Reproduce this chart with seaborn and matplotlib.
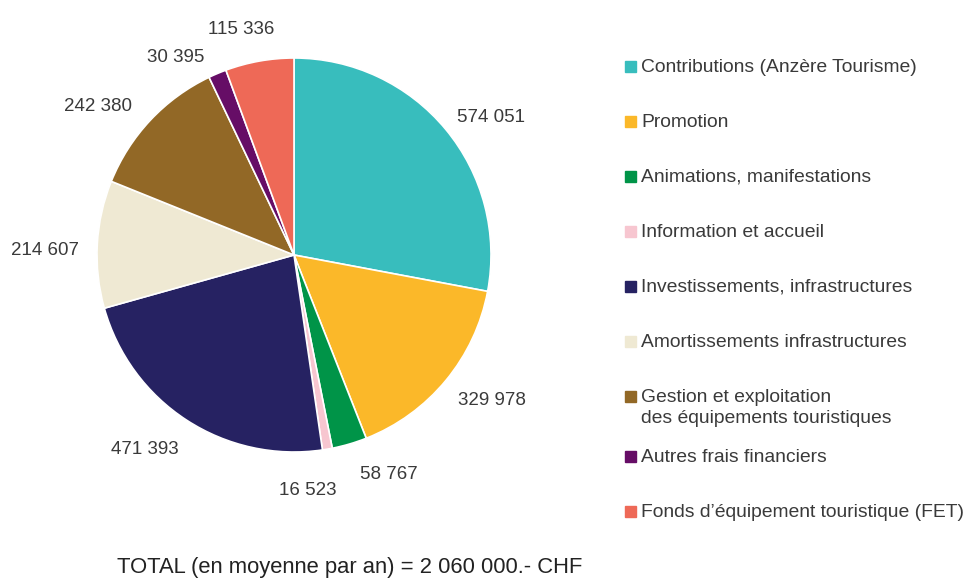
import matplotlib
matplotlib.use("Agg")
import numpy as np
import matplotlib.pyplot as plt
import seaborn as sns
from matplotlib.patches import Rectangle

categories = [
    "Contributions (Anzère Tourisme)",
    "Promotion",
    "Animations, manifestations",
    "Information et accueil",
    "Investissements, infrastructures",
    "Amortissements infrastructures",
    "Gestion et exploitation\ndes équipements touristiques",
    "Autres frais financiers",
    "Fonds d\u2019équipement touristique (FET)",
]
values = [574051, 329978, 58767, 16523, 471393, 214607, 242380, 30395, 115336]
value_labels = ["574 051", "329 978", "58 767", "16 523", "471 393",
                "214 607", "242 380", "30 395", "115 336"]
colors = ["#38BDBD", "#FBB829", "#009448", "#F7C6D0", "#262262",
          "#EFE9D3", "#926826", "#660D66", "#EE6957"]
total_text = "TOTAL (en moyenne par an) = 2 060 000.- CHF"

# label placement tweaks (style): angular shift in degrees (clockwise) and radial distance
label_shift = [4.7, -3.3, -7.0, 6.4, 4.5, -2.2, -6.0, -8.0, -3.1]
label_dist = [1.22, 1.245, 1.215, 1.195, 1.245, 1.265, 1.25, 1.167, 1.178]

sns.set_theme(style="white")
plt.rcParams["font.family"] = ["Liberation Sans", "DejaVu Sans"]
txt_color = "#3a3a3a"

W, H = 971, 579
fig = plt.figure(figsize=(W / 100, H / 100), dpi=100)
cx, cy, R, k = 294, 255, 197, 1.3
ax = fig.add_axes([(cx - R * k) / W, (H - cy - R * k) / H, 2 * R * k / W, 2 * R * k / H])

wedges, _ = ax.pie(values, colors=colors, startangle=90, counterclock=False,
                   wedgeprops=dict(edgecolor="white", linewidth=1.2))
ax.set_xlim(-k, k)
ax.set_ylim(-k, k)
ax.set_aspect("equal")
ax.axis("off")

for w, lab, sh, d in zip(wedges, value_labels, label_shift, label_dist):
    mid = np.deg2rad((w.theta1 + w.theta2) / 2 - sh)
    ax.text(d * np.cos(mid), d * np.sin(mid), lab, ha="center", va="center",
            fontsize=13.5, color=txt_color)

# legend
y_pos = []
y = 69
for c in categories:
    y_pos.append(y)
    y += 55 + (5 if "\n" in c else 0)
for c, col, yy in zip(categories, colors, y_pos):
    fig.patches.append(Rectangle((625 / W, 1 - (yy - 3 + 5.5) / H), 11 / W, 11 / H,
                                 transform=fig.transFigure, color=col, figure=fig))
    fig.text(641 / W, 1 - (yy - 10) / H, c, ha="left", va="top", fontsize=13.9,
             color=txt_color, linespacing=1.3)

fig.text(350 / W, 1 - 568 / H, total_text, ha="center", va="center",
         fontsize=15.8, color="#222222")

fig.savefig("out.png", dpi=100)
